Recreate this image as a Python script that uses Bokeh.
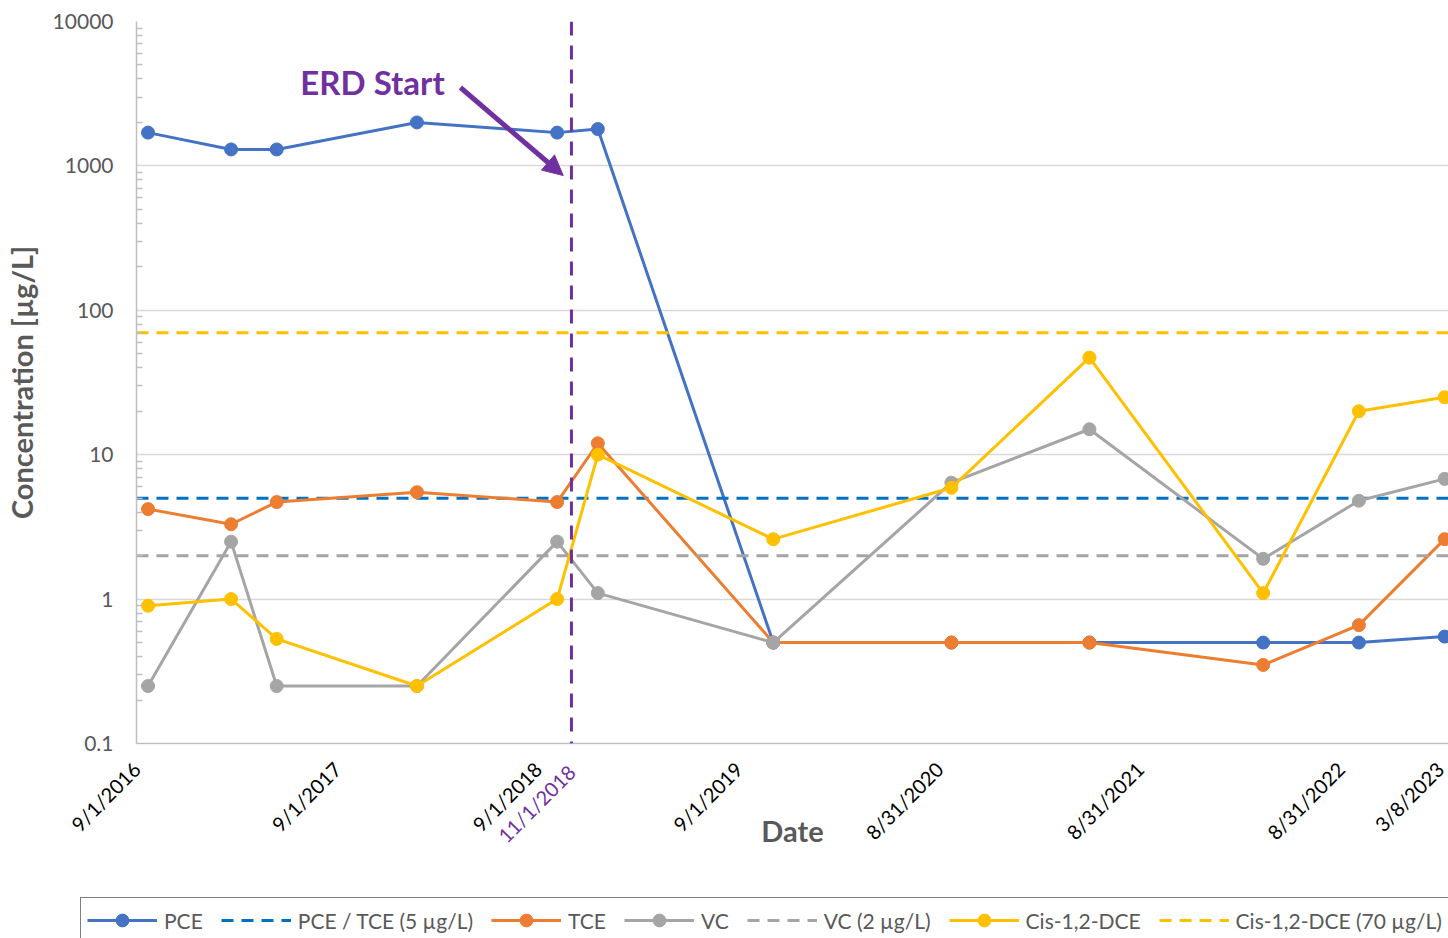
import math
import pandas as pd
from bokeh.plotting import figure
from bokeh.layouts import column
from bokeh.models import (Range1d, FixedTicker, Span, Label, Arrow, NormalHead,
                          Legend, LegendItem, LinearAxis)
from bokeh.embed import file_html
from bokeh.resources import INLINE

# ---------------- data ----------------
sample_dates = ["2016-09-22", "2017-02-20", "2017-05-14", "2018-01-24", "2018-10-06",
                "2018-12-19", "2019-11-03", "2020-09-22", "2021-05-31", "2022-04-12",
                "2022-10-03", "2023-03-08"]
pce = [1700, 1300, 1300, 2000, 1700, 1800, 0.5, 0.5, 0.5, 0.5, 0.5, 0.55]
tce = [4.2, 3.3, 4.7, 5.5, 4.7, 12, 0.5, 0.5, 0.5, 0.35, 0.66, 2.6]
vc = [0.25, 2.5, 0.25, 0.25, 2.5, 1.1, 0.5, 6.4, 15, 1.9, 4.8, 6.8]
dce = [0.9, 1.0, 0.53, 0.25, 1.0, 10, 2.6, 5.9, 47, 1.1, 20, 25]

pce_tce_limit = 5
vc_limit = 2
dce_limit = 70

axis_start = "2016-09-01"
axis_end = "2023-03-15"
tick_dates = ["2016-09-01", "2017-09-01", "2018-09-01", "2019-09-01", "2020-08-31",
              "2021-08-31", "2022-08-31", "2023-03-08"]
tick_labels = ["9/1/2016", "9/1/2017", "9/1/2018", "9/1/2019", "8/31/2020",
               "8/31/2021", "8/31/2022", "3/8/2023"]
erd_date = "2018-11-01"
erd_label = "11/1/2018"

y_ticks = [0.1, 1, 10, 100, 1000, 10000]
y_tick_labels = ["0.1", "1", "10", "100", "1000", "10000"]

series_names = ["PCE", "PCE / TCE (5 µg/L)", "TCE", "VC", "VC (2 µg/L)",
                "Cis-1,2-DCE", "Cis-1,2-DCE (70 µg/L)"]

# ---------------- helpers ----------------
t0 = pd.Timestamp(axis_start)


def day(s):
    return int((pd.Timestamp(s) - t0).days)


x = [day(d) for d in sample_dates]
x_lim = [day(axis_start), day(axis_end)]

FONT = "Lato"
GREY_TXT = "#595959"
PURPLE = "#7030A0"
C_PCE, C_LIM5, C_TCE, C_VC, C_DCE = "#4472C4", "#0070C0", "#ED7D31", "#A5A5A5", "#FFC000"

p = figure(width=1448, height=895, y_axis_type="log",
           x_range=Range1d(x_lim[0], x_lim[1]), y_range=Range1d(0.1, 10000),
           output_backend="svg", toolbar_location=None,
           min_border_left=136, min_border_right=0, min_border_top=21,
           min_border_bottom=152)
p.outline_line_color = None
p.background_fill_color = "white"
p.border_fill_color = "white"

# grid
p.xgrid.visible = False
p.ygrid.grid_line_color = "#D9D9D9"
p.ygrid.grid_line_width = 1.5
p.ygrid.minor_grid_line_color = None

# y axis
minor = [m * 10.0 ** e for e in range(-1, 4) for m in range(2, 10)]
p.yaxis.ticker = FixedTicker(ticks=y_ticks, minor_ticks=minor)
p.yaxis.major_label_overrides = {t: l for t, l in zip(y_ticks, y_tick_labels)}
p.yaxis.axis_line_color = "#BFBFBF"
p.yaxis.axis_line_width = 1.5
p.yaxis.major_tick_out = 0
p.yaxis.major_tick_in = 0
p.yaxis.minor_tick_in = 6
p.yaxis.minor_tick_out = 0
p.yaxis.minor_tick_line_color = "#BFBFBF"
p.yaxis.minor_tick_line_width = 1.5
p.yaxis.major_label_text_font = FONT
p.yaxis.major_label_text_font_size = "21px"
p.yaxis.major_label_text_color = GREY_TXT
p.yaxis.major_label_standoff = 23
p.yaxis.axis_label = "Concentration [µg/L]"
p.yaxis.axis_label_text_font = FONT
p.yaxis.axis_label_text_font_style = "bold"
p.yaxis.axis_label_text_font_size = "29px"
p.yaxis.axis_label_text_color = GREY_TXT
p.yaxis.axis_label_standoff = 11

# x axis (main dates)
xa = p.xaxis[0]
xa.ticker = FixedTicker(ticks=[day(d) for d in tick_dates], minor_ticks=[])
xa.major_label_overrides = {day(d): l for d, l in zip(tick_dates, tick_labels)}
xa.major_label_orientation = math.pi / 4
xa.axis_line_color = "#BFBFBF"
xa.axis_line_width = 1.5
xa.major_tick_out = 0
xa.major_tick_in = 0
xa.minor_tick_out = 0
xa.minor_tick_in = 0
xa.major_label_text_font = FONT
xa.major_label_text_font_size = "20px"
xa.major_label_text_color = "black"
xa.major_label_standoff = 22

# second x axis: ERD start date label (purple), pulled up beside the main labels
xa2 = LinearAxis(ticker=FixedTicker(ticks=[day(erd_date)], minor_ticks=[]),
                 major_label_overrides={day(erd_date): erd_label},
                 major_label_orientation=math.pi / 4,
                 axis_line_color=None, major_tick_out=0, major_tick_in=0,
                 minor_tick_out=0, minor_tick_in=0,
                 major_label_text_font=FONT, major_label_text_font_size="20px",
                 major_label_text_color=PURPLE, major_label_standoff=-87,
                 axis_label="Date", axis_label_text_font=FONT,
                 axis_label_text_font_style="bold", axis_label_text_font_size="29px",
                 axis_label_text_color=GREY_TXT, axis_label_standoff=-46)
p.add_layout(xa2, "below")

# ERD start vertical line
p.add_layout(Span(location=day(erd_date), dimension="height", line_color=PURPLE,
                  line_width=3, line_dash="14 10"))

# series
LW = 3
MS = 13
p.line(x, pce, line_color=C_PCE, line_width=LW)
p.scatter(x, pce, marker="circle", size=MS, color=C_PCE)
p.line(x_lim, [pce_tce_limit] * 2, line_color=C_LIM5, line_width=LW, line_dash="12 8")
p.line(x, tce, line_color=C_TCE, line_width=LW)
p.scatter(x, tce, marker="circle", size=MS, color=C_TCE)
p.line(x, vc, line_color=C_VC, line_width=LW)
p.scatter(x, vc, marker="circle", size=MS, color=C_VC)
p.line(x_lim, [vc_limit] * 2, line_color=C_VC, line_width=LW, line_dash="12 8")
p.line(x, dce, line_color=C_DCE, line_width=LW)
p.scatter(x, dce, marker="circle", size=MS, color=C_DCE)
p.line(x_lim, [dce_limit] * 2, line_color=C_DCE, line_width=LW, line_dash="12 8")

# annotations
p.add_layout(Label(x=day("2017-06-26"), y=3840, text="ERD Start", text_align="left",
                   text_baseline="alphabetic", text_font=FONT,
                   text_font_style="bold", text_font_size="33px", text_color=PURPLE))
p.add_layout(Arrow(x_start=day("2018-04-13"), y_start=3490,
                   x_end=day("2018-10-17"), y_end=858,
                   line_color=PURPLE, line_width=5,
                   end=NormalHead(size=20, fill_color=PURPLE, line_color=PURPLE, line_width=1)))

# ---------------- legend strip (separate small figure below) ----------------
lg = figure(width=1448, height=43, x_range=Range1d(0, 1), y_range=Range1d(0, 1),
            output_backend="svg", toolbar_location=None,
            x_axis_location=None, y_axis_location=None,
            min_border_left=0, min_border_right=0, min_border_top=0, min_border_bottom=0)
lg.outline_line_color = None
lg.grid.visible = False
for fig in (p, lg):
    try:
        fig.frame_align = False
    except Exception:
        pass

nan = float("nan")
styles = [(C_PCE, None, True), (C_LIM5, "12 8", False), (C_TCE, None, True),
          (C_VC, None, True), (C_VC, "12 8", False), (C_DCE, None, True),
          (C_DCE, "12 8", False)]
items = []
for name, (col, dash, marker) in zip(series_names, styles):
    rs = [lg.line([nan, nan], [nan, nan], line_color=col, line_width=LW,
                  line_dash=dash or "solid")]
    if marker:
        rs.append(lg.scatter([nan], [nan], marker="circle", size=MS, color=col))
    items.append(LegendItem(label=name, renderers=rs))

legend = Legend(items=items, orientation="horizontal", location=(80, -5),
                border_line_color="black", border_line_width=1.5,
                background_fill_color="white", background_fill_alpha=1,
                label_text_font=FONT, label_text_font_size="21px",
                label_text_color=GREY_TXT, glyph_width=70, glyph_height=32,
                label_standoff=7, spacing=18, padding=6, margin=0)
lg.add_layout(legend, "center")

layout = column(p, lg, spacing=0)
open("out.html", "w").write(file_html(layout, INLINE))
